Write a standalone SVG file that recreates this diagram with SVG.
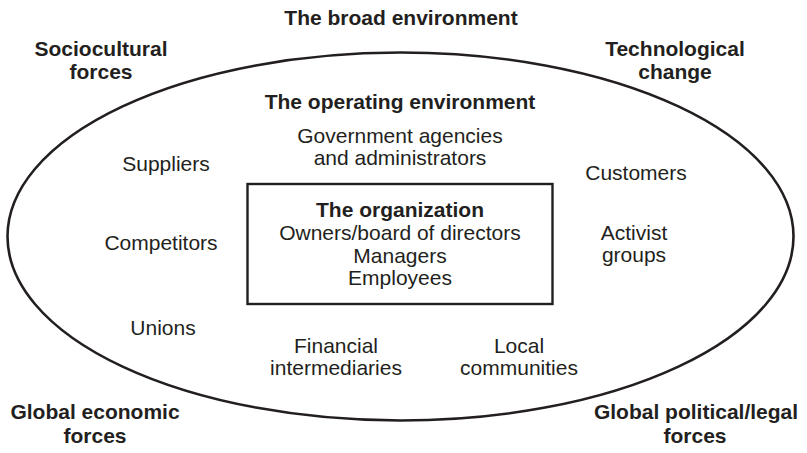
<svg xmlns="http://www.w3.org/2000/svg" width="807" height="453" viewBox="0 0 807 453">
<style>
text{font-family:"Liberation Sans",Arial,sans-serif;font-size:21px;fill:#231f20;text-anchor:middle}
.b{font-weight:bold}
.shape{fill:none;stroke:#231f20}
</style>
<rect width="807" height="453" fill="#fff"/>
<g id="broad-environment">
<ellipse class="shape" cx="400.5" cy="236.5" rx="393" ry="184" stroke-width="2.6"/>
<text class="b" x="401" y="25">The broad environment</text>
</g>
<g id="sociocultural"><text class="b" x="101" y="56">Sociocultural</text><text class="b" x="101" y="79">forces</text></g>
<g id="technological"><text class="b" x="675" y="56">Technological</text><text class="b" x="675" y="79">change</text></g>
<g id="global-economic"><text class="b" x="95" y="419">Global economic</text><text class="b" x="95" y="443">forces</text></g>
<g id="global-political"><text class="b" x="696" y="419">Global political/legal</text><text class="b" x="695" y="443">forces</text></g>
<g id="operating-environment"><text class="b" x="400" y="109">The operating environment</text></g>
<g id="government"><text x="400" y="143">Government agencies</text><text x="400" y="165">and administrators</text></g>
<g id="suppliers"><text x="166" y="171">Suppliers</text></g>
<g id="customers"><text x="636" y="180">Customers</text></g>
<g id="competitors"><text x="161" y="250">Competitors</text></g>
<g id="activist"><text x="634" y="240">Activist</text><text x="634" y="262">groups</text></g>
<g id="unions"><text x="163" y="335">Unions</text></g>
<g id="financial"><text x="336" y="353">Financial</text><text x="336" y="375">intermediaries</text></g>
<g id="local"><text x="519" y="353">Local</text><text x="519" y="375">communities</text></g>
<g id="organization">
<rect class="shape" x="247.5" y="184" width="305" height="120" stroke-width="2.4"/>
<text class="b" x="400" y="217">The organization</text>
<text x="400" y="240">Owners/board of directors</text>
<text x="400" y="263">Managers</text>
<text x="400" y="285">Employees</text>
</g>
<g id="connectors"/>
</svg>
